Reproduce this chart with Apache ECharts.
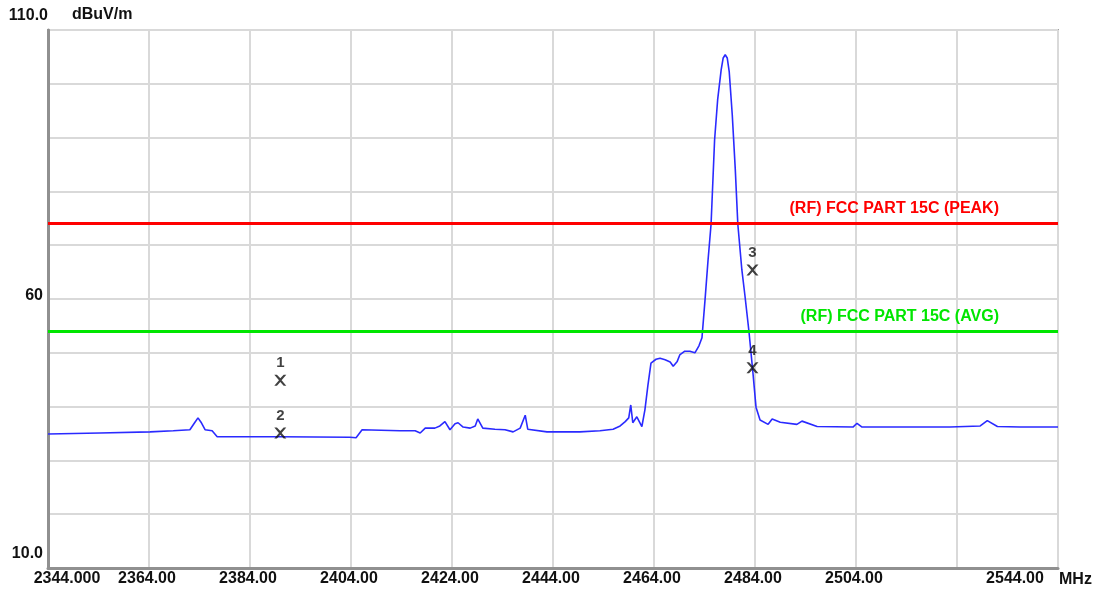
<!DOCTYPE html>
<html>
<head>
<meta charset="utf-8">
<script src="https://cdn.jsdelivr.net/npm/echarts@6/dist/echarts.min.js"></script>
<style>
	html, body { margin: 0; padding: 0; background: #fff; }
	#chart { width: 1099px; height: 594px; }
</style>
</head>
<body>
<div id="chart"></div>
<script>
// spectrum trace (MHz / dBuV/m)
var traceFreq = [2344.0, 2354.3, 2364.2, 2368.8, 2372.1, 2373.1, 2373.7, 2374.3, 2375.1, 2376.5,
	2377.5, 2389.9, 2403.8, 2405.0, 2406.2, 2413.7, 2416.7, 2417.7, 2418.7, 2420.6,
	2421.6, 2422.6, 2423.6, 2424.6, 2425.2, 2426.2, 2427.6, 2428.6, 2429.1, 2430.1,
	2432.5, 2434.5, 2436.1, 2437.5, 2438.5, 2439.0, 2442.8, 2449.3, 2453.3, 2455.9,
	2457.3, 2458.3, 2459.0, 2459.4, 2459.8, 2460.6, 2461.6, 2462.2, 2462.8, 2463.4,
	2464.4, 2465.2, 2466.2, 2467.2, 2467.8, 2468.6, 2469.1, 2470.1, 2471.1, 2472.1,
	2472.9, 2473.5, 2474.1, 2474.7, 2475.3, 2476.0, 2476.6, 2477.3, 2477.7, 2478.1,
	2478.5, 2478.9, 2479.5, 2480.1, 2480.6, 2481.4, 2482.0, 2482.8, 2483.6, 2484.2,
	2485.0, 2486.6, 2487.4, 2489.0, 2492.3, 2493.3, 2496.3, 2503.4, 2504.2, 2505.2,
	2512.7, 2522.6, 2528.6, 2530.0, 2532.0, 2536.5, 2544.0];
var traceLevel = [34.9, 35.1, 35.3, 35.5, 35.7, 37.1, 37.9, 37.1, 35.7, 35.5,
	34.4, 34.4, 34.3, 34.2, 35.7, 35.5, 35.5, 35.1, 36.0, 36.0,
	36.4, 37.2, 35.7, 36.8, 37.0, 36.2, 36.0, 36.4, 37.7, 36.0,
	35.8, 35.7, 35.3, 36.0, 38.4, 35.8, 35.3, 35.3, 35.5, 35.8,
	36.4, 37.2, 37.9, 40.3, 37.0, 38.1, 36.3, 39.4, 44.0, 48.1,
	48.8, 49.0, 48.7, 48.3, 47.5, 48.4, 49.6, 50.3, 50.3, 50.0,
	51.3, 52.8, 59.8, 67.2, 73.9, 89.6, 97.0, 102.6, 104.8, 105.4,
	104.8, 102.2, 94.2, 84.0, 73.9, 65.4, 60.7, 54.0, 46.2, 39.9,
	37.5, 36.7, 37.7, 37.1, 36.7, 37.3, 36.3, 36.2, 36.9, 36.2,
	36.2, 36.2, 36.4, 37.4, 36.3, 36.2, 36.2];

// markers
var markerNo = ['1', '2', '3', '4'];
var markerFreq = [2390.0, 2390.0, 2483.5, 2483.5];
var markerLevel = [44.9, 35.1, 65.4, 47.2];

// limit lines
var limitNames = ['(RF) FCC PART 15C (PEAK)', '(RF) FCC PART 15C (AVG)'];
var limitLevels = [74, 54];
var limitColors = ['#ff0000', '#00e600'];

// tick labels
var xTickValues = [2344, 2364, 2384, 2404, 2424, 2444, 2464, 2484, 2504, 2524, 2544];
var xTickText = ['2344.000', '2364.00', '2384.00', '2404.00', '2424.00', '2444.00', '2464.00', '2484.00', '2504.00', '', '2544.00'];
var yTickValues = [10, 60, 110];
var yTickText = ['10.0', '60', '110.0'];

var FONT = '"Liberation Sans", Arial, sans-serif';

var chart = echarts.init(document.getElementById('chart'), null, { renderer : 'canvas' });

var traceData = traceFreq.map(function(f, i) { return [f, traceLevel[i]]; });
var markerData = markerFreq.map(function(f, i) { return { value : [f, markerLevel[i]], name : markerNo[i] }; });

var series = [ {
	type : 'line',
	data : traceData,
	showSymbol : false,
	symbol : 'none',
	lineStyle : { color : '#2a2aff', width : 1.6 },
	z : 3
}, {
	type : 'scatter',
	data : markerData,
	symbol : 'path://M0,0 L2.2,0 L5,3.3 L7.8,0 L10,0 L6.1,5 L10,10 L7.8,10 L5,6.7 L2.2,10 L0,10 L3.9,5 Z',
	symbolSize : [12, 11],
	itemStyle : { color : '#111' },
	label : {
		show : true,
		position : 'top',
		distance : 4,
		formatter : function(p) { return p.name; },
		color : '#111',
		fontFamily : FONT,
		fontWeight : 'bold',
		fontSize : 15
	},
	z : 5
} ];

limitLevels.forEach(function(lv, i) {
	series.push({
		type : 'line',
		data : [],
		markLine : {
			silent : true,
			symbol : 'none',
			animation : false,
			lineStyle : { color : limitColors[i], width : 3, type : 'solid' },
			label : {
				show : true,
				position : 'insideEndTop',
				distance : [ 59, 7 ],
				formatter : limitNames[i],
				color : limitColors[i],
				fontFamily : FONT,
				fontWeight : 'bold',
				fontSize : 16
			},
			data : [ { yAxis : lv } ]
		},
		z : 4
	});
});

chart.setOption({
	animation : false,
	grid : {
		left : 48,
		right : 41,
		top : 30,
		bottom : 26,
		show : true,
		borderColor : '#a0a0a0',
		borderWidth : 2
	},
	xAxis : {
		type : 'value',
		min : 2344,
		max : 2544,
		interval : 20,
		name : 'MHz',
		nameLocation : 'end',
		nameGap : 1,
		nameTextStyle : {
			color : '#111', fontFamily : FONT, fontWeight : 'bold', fontSize : 16,
			align : 'left', verticalAlign : 'top', padding : [ 4, 0, 0, 0 ]
		},
		axisLine : { show : true, lineStyle : { color : '#909090', width : 3 } },
		axisTick : { show : false },
		splitLine : { show : true, lineStyle : { color : '#d9d9d9', width : 2 } },
		axisLabel : {
			margin : 3,
			showMinLabel : true,
			showMaxLabel : true,
			color : '#111',
			fontFamily : FONT,
			fontWeight : 'bold',
			fontSize : 16,
			formatter : function(v) {
				var k = xTickValues.indexOf(Math.round(v));
				if (k < 0 || xTickText[k] === '') return '';
				if (k === 0) return '{f|' + xTickText[k] + '}';
				if (k === xTickValues.length - 1) return '{l|' + xTickText[k] + '}';
				return '{n|' + xTickText[k] + '}';
			},
			rich : {
				f : { fontFamily : FONT, fontWeight : 'bold', fontSize : 16, color : '#111', padding : [ 0, 0, 0, 38 ] },
				l : { fontFamily : FONT, fontWeight : 'bold', fontSize : 16, color : '#111', padding : [ 0, 86, 0, 0 ] },
				n : { fontFamily : FONT, fontWeight : 'bold', fontSize : 16, color : '#111', padding : [ 0, 4, 0, 0 ] }
			}
		}
	},
	yAxis : {
		type : 'value',
		min : 10,
		max : 110,
		interval : 10,
		name : 'dBuV/m',
		nameLocation : 'end',
		nameGap : 7,
		nameTextStyle : {
			color : '#111', fontFamily : FONT, fontWeight : 'bold', fontSize : 16,
			align : 'left', padding : [ 0, 0, 0, 24 ]
		},
		axisLine : { show : true, lineStyle : { color : '#909090', width : 3 } },
		axisTick : { show : false },
		splitLine : { show : true, lineStyle : { color : '#d9d9d9', width : 2 } },
		axisLabel : {
			margin : 0,
			color : '#111',
			fontFamily : FONT,
			fontWeight : 'bold',
			fontSize : 16,
			formatter : function(v) {
				var k = yTickValues.indexOf(Math.round(v));
				if (k < 0) return '';
				if (k === 0) return '{b|' + yTickText[k] + '}';
				if (k === 1) return '{m|' + yTickText[k] + '}';
				return '{t|' + yTickText[k] + '}';
			},
			rich : {
				t : { fontFamily : FONT, fontWeight : 'bold', fontSize : 16, color : '#111', padding : [ 0, 0, 28, 0 ] },
				m : { fontFamily : FONT, fontWeight : 'bold', fontSize : 16, color : '#111', padding : [ 0, 5, 6, 0 ] },
				b : { fontFamily : FONT, fontWeight : 'bold', fontSize : 16, color : '#111', padding : [ 0, 5, 28, 0 ] }
			}
		}
	},
	series : series
});
</script>
</body>
</html>
